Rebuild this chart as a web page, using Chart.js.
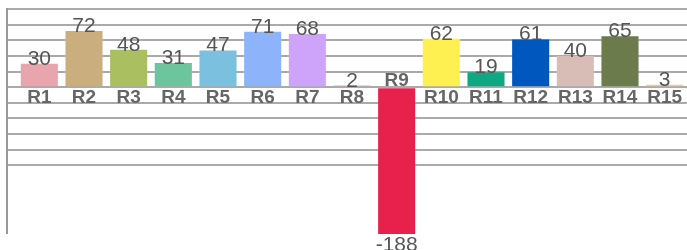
<!DOCTYPE html>
<html><head><meta charset="utf-8">
<script src="https://cdn.jsdelivr.net/npm/chart.js@4"></script>
<style>html,body{margin:0;padding:0;background:#fff}#wrap{width:687px;height:250px}</style>
</head><body><div id="wrap"><canvas id="c"></canvas></div>
<script>
const categories = ["R1","R2","R3","R4","R5","R6","R7","R8","R9","R10","R11","R12","R13","R14","R15"];
const values = [30,72,48,31,47,71,68,2,-188,62,19,61,40,65,3];
const barColors = ["#E8A5AE","#CBAE7E","#AABF5F","#6CC59C","#7BC0DE","#8DB4FA","#CDA4F9","#E6A0D6","#E8204C","#FEF051","#0EA882","#0057BD","#D7BDB6","#6B7B4B","#F6C98A"];
const yMin = -188, yMax = 100, yStep = 20, gridFloor = -100;

const labelPlugin = {
  id: 'labels',
  beforeDatasetsDraw(chart) {
    const ctx = chart.ctx, a = chart.chartArea;
    ctx.save();
    ctx.strokeStyle = '#999';
    ctx.lineWidth = 2;
    ctx.beginPath();
    ctx.moveTo(a.left - 10, a.top - 1);
    ctx.lineTo(a.left - 10, a.bottom);
    ctx.stroke();
    ctx.restore();
  },
  afterDatasetsDraw(chart) {
    const ctx = chart.ctx;
    const meta = chart.getDatasetMeta(0);
    const y0 = chart.scales.y.getPixelForValue(0);
    ctx.save();
    ctx.textAlign = 'center';
    meta.data.forEach((bar, i) => {
      const v = values[i];
      ctx.font = '21px "Liberation Sans", Arial, sans-serif';
      ctx.fillStyle = '#555';
      if (v >= 0) { ctx.textBaseline = 'alphabetic'; ctx.fillText(String(v), bar.x, bar.y + 1); }
      else { ctx.textBaseline = 'top'; ctx.fillText(String(v), bar.x, bar.y + 1); }
      ctx.font = 'bold 19px "Liberation Sans", Arial, sans-serif';
      ctx.fillStyle = '#666';
      if (v >= 0) { ctx.textBaseline = 'top'; ctx.fillText(categories[i], bar.x, y0 + 1); }
      else { ctx.textBaseline = 'alphabetic'; ctx.fillText(categories[i], bar.x, y0 - 1); }
    });
    ctx.restore();
  }
};

new Chart(document.getElementById('c'), {
  type: 'bar',
  data: { labels: categories, datasets: [{ data: values, backgroundColor: barColors, barPercentage: 0.83, categoryPercentage: 1 }] },
  options: {
    responsive: true, maintainAspectRatio: false, animation: false,
    layout: { padding: { left: 7, right: 0, top: 9, bottom: 16 } },
    plugins: { legend: { display: false }, tooltip: { enabled: false } },
    scales: {
      x: { display: false },
      y: {
        min: yMin, max: yMax,
        ticks: { display: false, stepSize: yStep },
        border: { display: false },
        grid: {
          drawTicks: true, tickLength: 10, lineWidth: 2,
          color: (c) => (c.tick && c.tick.value >= gridFloor) ? '#aaa' : 'rgba(0,0,0,0)'
        }
      }
    }
  },
  plugins: [labelPlugin]
});
</script></body></html>
